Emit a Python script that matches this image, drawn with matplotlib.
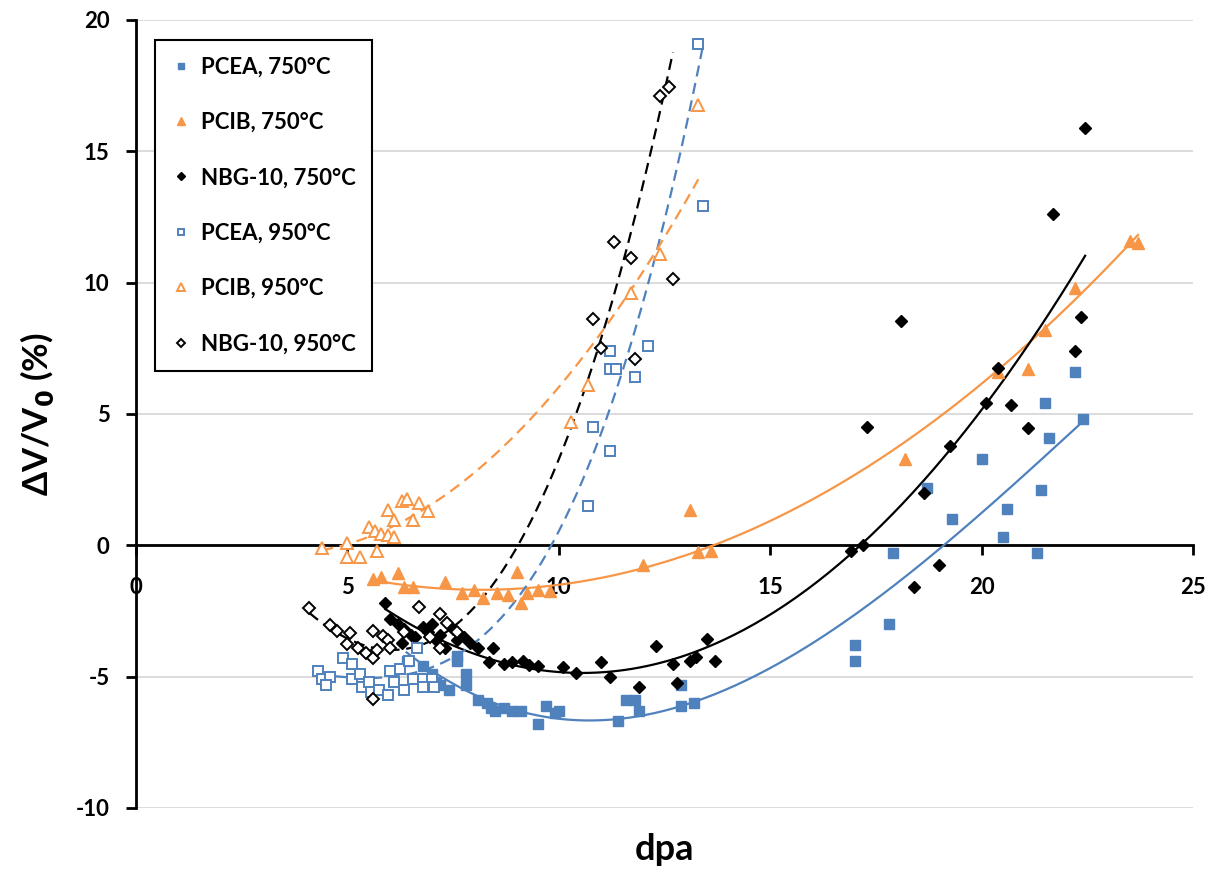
import numpy as np
import matplotlib
matplotlib.use("Agg")
from matplotlib import pyplot as plt

plt.rcParams['font.family'] = ['Lato', 'DejaVu Sans']
plt.rcParams['font.weight'] = 'bold'
plt.rcParams['axes.unicode_minus'] = False

BLUE = '#4F81BD'
ORANGE = '#F79646'

# PCEA, 750C (filled squares)
pcea750_x = [6.4, 6.8, 7.0, 7.1, 7.2, 7.4, 7.6, 7.6, 7.8, 7.8, 8.1, 8.3, 8.4, 8.5, 8.7, 8.9,
             9.1, 9.5, 9.7, 9.9, 10.0, 11.4, 11.6, 11.8, 11.9, 12.9, 12.9, 13.2, 17.0, 17.0,
             17.8, 17.9, 18.7, 19.3, 20.0, 20.5, 20.6, 21.3, 21.4, 21.5, 21.6, 22.2, 22.4]
pcea750_y = [-4.4, -4.6, -4.9, -5.2, -5.3, -5.5, -4.2, -4.4, -5.3, -4.9, -5.9, -6.0, -6.2, -6.3, -6.2, -6.3,
             -6.3, -6.8, -6.1, -6.4, -6.3, -6.7, -5.9, -5.9, -6.3, -5.3, -6.1, -6.0, -3.8, -4.4,
             -3.0, -0.3, 2.2, 1.0, 3.3, 0.3, 1.4, -0.3, 2.1, 5.4, 4.1, 6.6, 4.8]

# PCIB, 750C (filled triangles)
pcib750_x = [5.6, 5.8, 6.2, 6.35, 6.55, 7.3, 7.7, 8.0, 8.2, 8.55, 8.8, 9.0, 9.1, 9.25, 9.5, 9.8,
             12.0, 13.1, 13.3, 13.6, 18.2, 20.4, 21.1, 21.5, 22.2, 23.5, 23.7]
pcib750_y = [-1.3, -1.2, -1.05, -1.6, -1.6, -1.4, -1.8, -1.7, -2.0, -1.8, -1.9, -1.0, -2.2, -1.8, -1.7, -1.75,
             -0.75, 1.35, -0.25, -0.2, 3.3, 6.6, 6.7, 8.2, 9.8, 11.6, 11.5]

# NBG-10, 750C (filled diamonds)
nbg750_x = [5.9, 6.0, 6.2, 6.3, 6.35, 6.5, 6.6, 6.8, 6.9, 7.0, 7.1, 7.2, 7.3, 7.5, 7.6, 7.75, 7.9,
            8.1, 8.35, 8.45, 8.7, 8.9, 9.15, 9.3, 9.5, 10.1, 10.4, 11.0, 11.2, 11.9, 12.3, 12.7,
            12.8, 13.1, 13.25, 13.5, 13.7, 16.9, 17.2, 17.3, 18.1, 18.4, 18.65, 19.0, 19.25, 20.1,
            20.4, 20.7, 21.1, 21.7, 22.2, 22.35, 22.45]
nbg750_y = [-2.2, -2.8, -3.0, -3.7, -3.2, -3.4, -3.5, -3.1, -3.3, -3.0, -3.6, -3.4, -3.9, -3.2, -3.6, -3.5, -3.7,
            -3.9, -4.45, -3.9, -4.5, -4.45, -4.4, -4.55, -4.6, -4.65, -4.85, -4.45, -5.0, -5.4, -3.85, -4.5,
            -5.25, -4.4, -4.25, -3.55, -4.4, -0.2, 0.0, 4.5, 8.55, -1.6, 2.0, -0.75, 3.8, 5.4,
            6.75, 5.35, 4.45, 12.6, 7.4, 8.7, 15.9]

# PCEA, 950C (open squares)
pcea950_x = [4.3, 4.4, 4.6, 4.5, 4.9, 5.1, 5.1, 5.3, 5.35, 5.5, 5.55, 5.75, 5.95, 6.0, 6.25, 6.1, 6.33,
             6.45, 6.65, 6.55, 6.8, 7.0, 6.8, 7.05, 10.7, 10.8, 11.2, 11.2, 11.35, 11.2, 11.8, 12.1,
             13.3, 13.4]
pcea950_y = [-4.8, -5.1, -5.0, -5.3, -4.3, -4.5, -5.1, -4.9, -5.4, -5.2, -5.6, -5.5, -5.7, -4.8, -4.7, -5.2, -5.5,
             -4.4, -3.9, -5.1, -5.1, -5.1, -5.4, -5.4, 1.5, 4.5, 3.6, 6.7, 6.7, 7.4, 6.4, 7.6,
             19.1, 12.9]

# PCIB, 950C (open triangles)
pcib950_x = [4.4, 5.0, 5.0, 5.3, 5.7, 5.5, 5.65, 5.8, 5.95, 6.1, 5.97, 6.1, 6.3, 6.4, 6.7, 6.9, 6.55,
             10.3, 10.7, 11.7, 12.4, 13.3]
pcib950_y = [-0.1, 0.1, -0.45, -0.45, -0.2, 0.7, 0.55, 0.45, 0.4, 0.3, 1.35, 0.95, 1.7, 1.75, 1.6, 1.3, 0.95,
             4.7, 6.1, 9.6, 11.1, 16.75]

# NBG-10, 950C (open diamonds)
nbg950_x = [4.1, 4.6, 4.75, 5.05, 5.0, 5.25, 5.45, 5.6, 5.7, 5.6, 5.85, 5.95, 6.0, 6.35, 6.7, 6.95,
            7.2, 7.35, 7.6, 7.2, 5.6, 10.8, 11.0, 11.3, 11.7, 11.8, 12.4, 12.6, 12.7]
nbg950_y = [-2.4, -3.05, -3.25, -3.35, -3.75, -3.9, -4.1, -4.3, -4.0, -3.25, -3.45, -3.6, -3.9, -3.3, -2.35, -3.5,
            -2.6, -2.95, -3.3, -3.9, -5.85, 8.6, 7.5, 11.55, 10.95, 7.1, 17.1, 17.45, 10.15]

# polynomial trendline coefficients (highest power first)
pcea750_fit = [-0.00345, 0.23478, -3.84486, 11.81848]
pcib750_fit = [0.05589, -0.91129, 2.02132]
nbg750_fit = [0.11218, -2.36727, 7.63027]
pcea950_fit = [0.03198, -0.39621, 1.45815, -6.40462]
pcib950_fit = [0.14488, -0.97813, 1.31593]
nbg950_fit = [0.01786, 0.07390, -2.86970, 6.72070]

xticks = [0, 5, 10, 15, 20, 25]
yticks = [-10, -5, 0, 5, 10, 15, 20]

fig = plt.figure(figsize=(12.11, 8.69), dpi=100)
ax = fig.add_axes([0.1123, 0.0702, 0.8728, 0.9068])

series = [
    (pcea750_x, pcea750_y, pcea750_fit, 's', BLUE, True, 'PCEA, 750°C', 7),
    (pcib750_x, pcib750_y, pcib750_fit, '^', ORANGE, True, 'PCIB, 750°C', 9),
    (nbg750_x, nbg750_y, nbg750_fit, 'D', 'black', True, 'NBG-10, 750°C', 6.5),
    (pcea950_x, pcea950_y, pcea950_fit, 's', BLUE, False, 'PCEA, 950°C', 6.5),
    (pcib950_x, pcib950_y, pcib950_fit, '^', ORANGE, False, 'PCIB, 950°C', 8.5),
    (nbg950_x, nbg950_y, nbg950_fit, 'D', 'black', False, 'NBG-10, 950°C', 6),
]

for xs, ys, fit, mk, col, filled, lab, ms in series:
    xs = np.array(xs)
    ys = np.array(ys)
    xf = np.linspace(xs.min(), xs.max(), 200)
    ls = '-' if filled else (0, (5, 3))
    ax.plot(xf, np.polyval(fit, xf), color=col, lw=1.6, ls=ls, zorder=2)
    if filled:
        ax.plot(xs, ys, ls='none', marker=mk, ms=ms, color=col, mec=col, label=lab, zorder=3)
    else:
        ax.plot(xs, ys, ls='none', marker=mk, ms=ms, mfc='white', mec=col, mew=1.4,
                label=lab, zorder=3)

ax.set_xlim(0, 25)
ax.set_ylim(-10, 20)
ax.set_xticks(xticks)
ax.set_yticks(yticks)

ax.spines['top'].set_visible(False)
ax.spines['right'].set_visible(False)
ax.spines['bottom'].set_position(('data', 0))
ax.spines['bottom'].set_linewidth(2)
ax.spines['left'].set_linewidth(2)
ax.spines['bottom'].set_zorder(1.5)

ax.yaxis.grid(True, color='#D9D9D9', lw=1.3, zorder=0)
ax.set_axisbelow(True)

ax.tick_params(axis='both', direction='out', length=7, width=2, labelsize=16)
ax.tick_params(axis='x', pad=16)
ax.tick_params(axis='y', pad=12)

ax.set_xlabel('dpa', fontsize=26, fontweight='bold', va='center')
ax.xaxis.set_label_coords(0.5, -0.053)
ax.set_ylabel(r'ΔV/V$_\mathbf{0}$ (%)', fontsize=25, fontweight='bold', va='center')
ax.yaxis.set_label_coords(-0.093, 0.5)

leg = ax.legend(loc='upper left', bbox_to_anchor=(0.018, 0.975), borderaxespad=0,
                fontsize=16, markerscale=0.7, handlelength=0.8, handletextpad=0.5,
                labelspacing=1.55, borderpad=0.75, fancybox=False, framealpha=1)
leg.get_frame().set_edgecolor('black')
leg.get_frame().set_linewidth(1.5)
for t in leg.get_texts():
    t.set_fontweight('bold')

fig.savefig('out.png', dpi=100)
